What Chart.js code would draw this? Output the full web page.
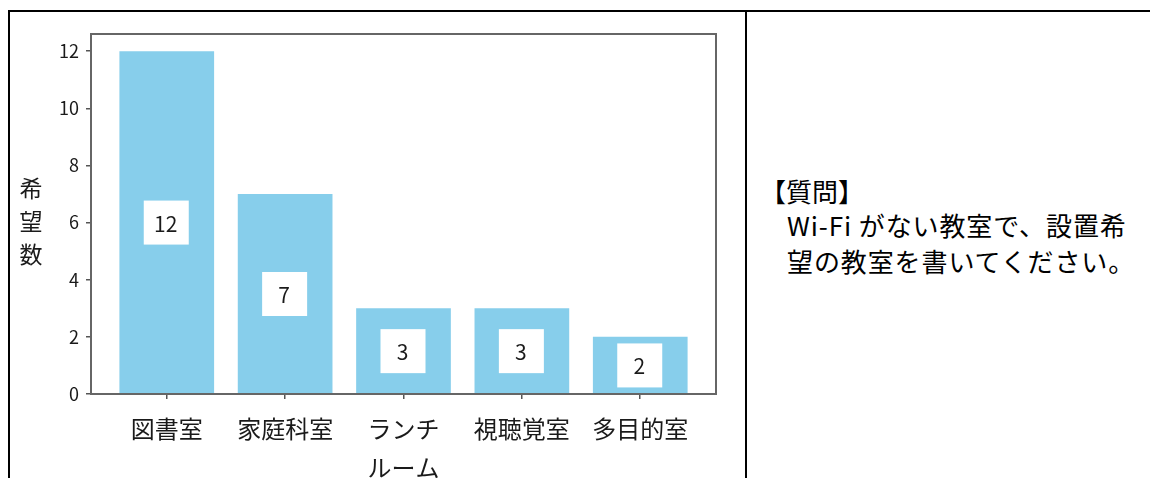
<!DOCTYPE html>
<html lang="ja">
<head>
<meta charset="utf-8">
<script src="https://cdn.jsdelivr.net/npm/chart.js@4.4.1/dist/chart.umd.min.js"></script>
<style>
  html, body { margin: 0; padding: 0; background: #fff; }
  body { width: 1150px; height: 478px; position: relative; overflow: hidden; font-family: 'Noto Sans CJK JP', sans-serif; }
  #wrap { position: absolute; left: 0; top: 0; width: 745px; height: 478px; }
  .rule { position: absolute; background: #000; z-index: 2; }
  #ytitle { position: absolute; left: 18px; top: 171px; width: 26px; font-size: 23px; line-height: 33px; text-align: center; color: #1a1a1a; }
  .q { position: absolute; font-size: 26px; line-height: 34px; color: #000; white-space: nowrap; }
</style>
</head>
<body>

<!-- 表の罫線 -->
<div class="rule" style="left:8px; top:10px; width:1142px; height:2px"></div>
<div class="rule" style="left:8px; top:10px; width:2px; height:468px"></div>
<div class="rule" style="left:745px; top:10px; width:2px; height:468px"></div>

<div id="wrap"><canvas id="roomChart" width="745" height="478"></canvas></div>
<div id="ytitle">希<br>望<br>数</div>

<div class="q" style="left:760px; top:174px">【質問】</div>
<div class="q" style="left:787px; top:208px; letter-spacing:0.9px">Wi-Fi がない教室で、設置希</div>
<div class="q" style="left:787px; top:244px; letter-spacing:0.9px">望の教室を書いてください。</div>

<script>
// データ
const rooms  = ['図書室', '家庭科室', ['ランチ', 'ルーム'], '視聴覚室', '多目的室'];
const counts = [12, 7, 3, 3, 2];
const yTicks = [0, 2, 4, 6, 8, 10, 12];
const xIndex = rooms.map((_, i) => i);

const FONT = "'Noto Sans CJK JP', sans-serif";

// 棒の中の白い数値ボックスと枠線
const boxLabels = {
    id: 'boxLabels',
    afterDatasetsDraw(chart) {
        const { ctx, scales: { x, y } } = chart;
        ctx.save();
        counts.forEach((v, i) => {
            const cx = x.getPixelForValue(i);
            const cy = y.getPixelForValue(v / 2);
            ctx.fillStyle = '#fff';
            ctx.fillRect(cx - 23, cy - 22, 45, 44);
            ctx.fillStyle = '#1a1a1a';
            ctx.font = '21px ' + FONT;
            ctx.textAlign = 'center';
            ctx.textBaseline = 'middle';
            ctx.fillText(String(v), cx - 1, cy + 1);
        });
        const a = chart.chartArea;
        ctx.strokeStyle = '#666';
        ctx.lineWidth = 2;
        ctx.strokeRect(a.left, a.top, a.right - a.left, a.bottom - a.top);
        ctx.restore();
    }
};

const axisGrid = { offset: false, drawOnChartArea: false, drawTicks: true, tickLength: 5, color: '#555', lineWidth: 1.5 };

function draw() {
    new Chart(document.getElementById('roomChart'), {
        type: 'bar',
        data: {
            datasets: [{
                label: '希望数',
                data: counts.map((v, i) => ({ x: i, y: v })),
                backgroundColor: '#87CEEB',
                borderWidth: 0,
                barPercentage: 0.8,
                categoryPercentage: 1,
            }]
        },
        options: {
            responsive: false,
            animation: false,
            layout: { padding: { top: 34, right: 29, left: 0, bottom: 0 } },
            plugins: { legend: { display: false }, tooltip: { enabled: false } },
            scales: {
                x: {
                    type: 'linear',
                    min: -0.64,
                    max: 4.64,
                    offset: false,
                    afterBuildTicks: s => { s.ticks = xIndex.map(v => ({ value: v })); },
                    afterFit: s => { s.height = 84; },
                    grid: axisGrid,
                    border: { display: true, color: '#666', width: 2 },
                    ticks: {
                        callback: v => rooms[v],
                        color: '#1a1a1a',
                        font: { family: FONT, size: 24, lineHeight: 1.6 },
                        padding: 11,
                        maxRotation: 0,
                        autoSkip: false,
                    }
                },
                y: {
                    min: 0,
                    max: 12.6,
                    afterBuildTicks: s => { s.ticks = yTicks.map(v => ({ value: v })); },
                    afterFit: s => { s.width = 91; },
                    grid: axisGrid,
                    border: { display: true, color: '#666', width: 2 },
                    ticks: {
                        color: '#1a1a1a',
                        font: { family: FONT, size: 18 },
                        padding: 7,
                    }
                }
            }
        },
        plugins: [boxLabels]
    });
}

document.fonts.load("24px 'Noto Sans CJK JP'").then(draw, draw);
</script>
</body>
</html>
